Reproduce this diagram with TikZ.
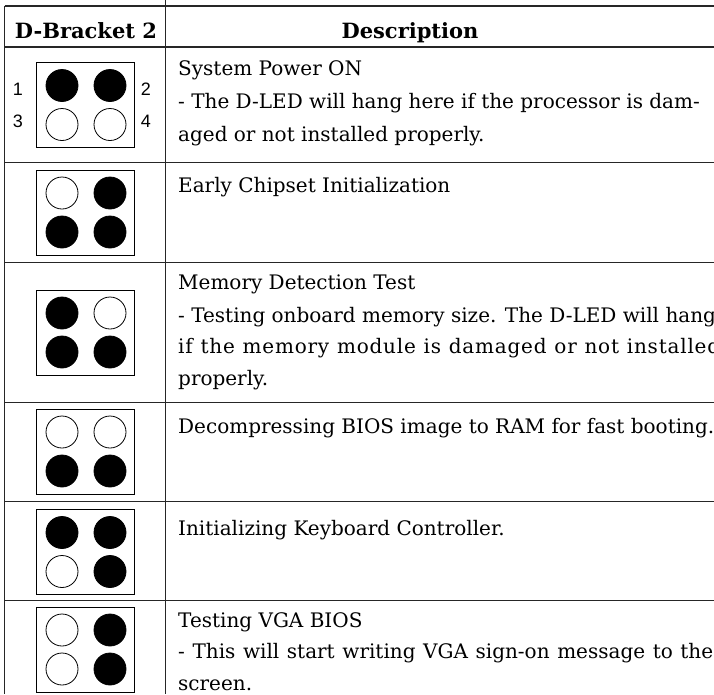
\documentclass[tikz,border=0pt]{standalone}
\usepackage{fontspec}
\usepackage{tikz}
\setmainfont{DejaVu Serif}
\newfontfamily\pinfont{Liberation Sans}

% one panel of four LEDs: centre y, then top-left, top-right, bottom-left, bottom-right
\newcommand{\ledpanel}[5]{%
  \draw[panel] (36,{#1-42.5}) rectangle (134,{#1+42.5});
  \draw[led#2] (62,{#1-19.5}) circle (16);
  \draw[led#3] (110,{#1-19.5}) circle (16);
  \draw[led#4] (62,{#1+19.5}) circle (16);
  \draw[led#5] (110,{#1+19.5}) circle (16);
}
% a line spread out to a given width
\newcommand{\spreadline}[2]{\makebox[#1][s]{\addfontfeature{LetterSpace=4}#2}}

\begin{document}
\begin{tikzpicture}[x=1pt,y=-1pt,
  rule/.style={line width=1pt,black!85},
  panel/.style={line width=0.9pt,black},
  ledon/.style={line width=0.8pt,fill=black},
  ledoff/.style={line width=0.8pt,fill=white},
  head/.style={anchor=base,inner sep=0pt,font=\fontsize{21}{21}\selectfont\bfseries},
  desc/.style={anchor=base west,inner sep=0pt,font=\fontsize{20}{20}\selectfont},
  pin/.style={anchor=base,inner sep=0pt,font=\fontsize{18}{18}\selectfont\pinfont}]
  \useasboundingbox (0,0) rectangle (714,694);
  \clip (0,0) rectangle (714,694);

  % table rules
  \draw[rule,line width=1.3pt] (4.5,6) -- (714,6);
  \draw[rule,line width=1.3pt] (4.5,47) -- (714,47);
  \draw[rule] (4.5,6) -- (4.5,694);
  \draw[rule] (165,0) -- (165,694);
  \draw[rule] (4.5,162) -- (714,162);
  \draw[rule] (4.5,262) -- (714,262);
  \draw[rule] (4.5,402) -- (714,402);
  \draw[rule] (4.5,501) -- (714,501);
  \draw[rule] (4.5,600) -- (714,600);

  % header
  \node[head] (hbracket) at (86,38) {D-Bracket 2};
  \node[head] (hdesc) at (410,38) {Description};

  % LED panels
  \ledpanel{105}{on}{on}{off}{off}
  \ledpanel{212.5}{off}{on}{on}{on}
  \ledpanel{332.5}{on}{off}{on}{on}
  \ledpanel{451.5}{off}{off}{on}{on}
  \ledpanel{552}{on}{on}{off}{on}
  \ledpanel{649.5}{off}{on}{off}{on}

  % pin numbers
  \node[pin] (pa) at (18,95) {1};
  \node[pin] (pb) at (146,95) {2};
  \node[pin] (pc) at (18,127) {3};
  \node[pin] (pd) at (146,127) {4};

  % descriptions
  \node[desc] (da) at (178,75) {System Power ON};
  \node[desc] (db) at (178,108) {- The D-LED will hang here if the processor is dam-};
  \node[desc] (dc) at (178,141) {aged or not installed properly.};
  \node[desc] (dd) at (178,192) {Early Chipset Initialization};
  \node[desc] (de) at (178,289) {Memory Detection Test};
  \node[desc] (df) at (178,322) {- Testing onboard memory size. The D-LED will hang};
  \node[desc] (dg) at (178,353) {\spreadline{542pt}{if the memory module is damaged or not installed}};
  \node[desc] (dh) at (178,385) {properly.};
  \node[desc] (di) at (178,433) {Decompressing BIOS image to RAM for fast booting.};
  \node[desc] (dj) at (178,535) {Initializing Keyboard Controller.};
  \node[desc] (dk) at (178,627) {Testing VGA BIOS};
  \node[desc] (dl) at (178,658) {\makebox[535pt][s]{- This will start writing VGA sign-on message to the}};
  \node[desc] (dm) at (178,690) {screen.};
\end{tikzpicture}
\end{document}
